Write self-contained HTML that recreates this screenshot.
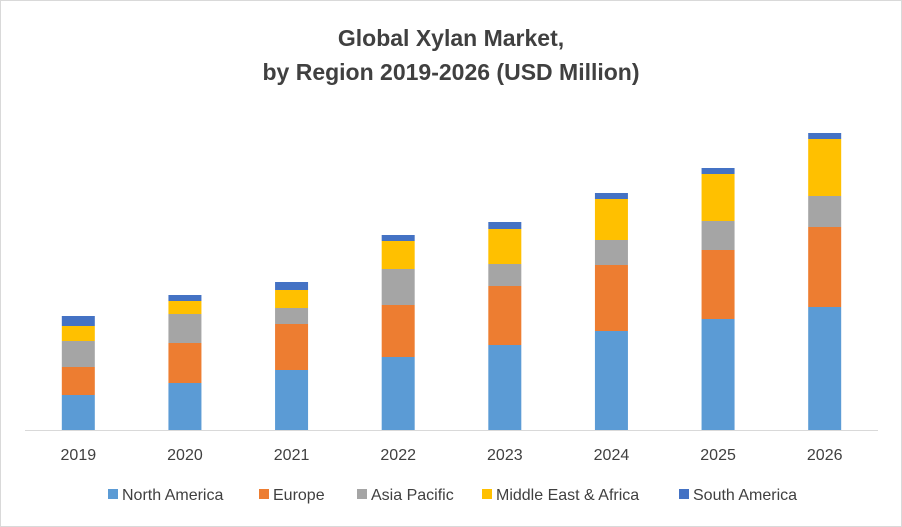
<!DOCTYPE html>
<html><head><meta charset="utf-8"><style>
body{margin:0;background:#fff;}
svg{display:block;font-family:"Liberation Sans",sans-serif;}
</style></head><body>
<svg id="chart" width="902" height="527">
<rect x="0.5" y="0.5" width="901" height="526" fill="#fff" stroke="#d9d9d9"/>
<text x="451" y="46" text-anchor="middle" font-size="23" font-weight="bold" fill="#404040">Global Xylan Market,</text>
<text x="451" y="80" text-anchor="middle" font-size="23" font-weight="bold" fill="#404040">by Region 2019-2026 (USD Million)</text>
<g id="bars"></g>
<line x1="25" y1="430.5" x2="878" y2="430.5" stroke="#d9d9d9"/>
<g id="xlabels"></g>
<g id="legend"></g>
</svg>
<script>
const categories=["2019","2020","2021","2022","2023","2024","2025","2026"];
const northAmerica=[35,47,60,73,85,99,111,123];
const europe=[28,40,46,52,59,66,69,80];
const asiaPacific=[26,29,16,36,22,25,29,31];
const middleEastAfrica=[15,13,18,28,35,41,47,57];
const southAmerica=[10,6,8,6,7,6,6,6];
const seriesNames=["North America","Europe","Asia Pacific","Middle East & Africa","South America"];
const seriesColors=["#5b9bd5","#ed7d31","#a5a5a5","#ffc000","#4472c4"];
const seriesData=[northAmerica,europe,asiaPacific,middleEastAfrica,southAmerica];
const NS="http://www.w3.org/2000/svg";
const plotL=25,plotR=878,baseY=430,scale=1;
const band=(plotR-plotL)/categories.length;
function xCenter(i){return plotL+band*(i+0.5);}
function yPos(v){return baseY-v*scale;}
const bars=document.getElementById('bars');
const xl=document.getElementById('xlabels');
categories.forEach((c,i)=>{
  let cum=0;
  seriesData.forEach((s,k)=>{
    const r=document.createElementNS(NS,'rect');
    r.setAttribute('x',xCenter(i)-16.5);
    r.setAttribute('y',yPos(cum+s[i]));
    r.setAttribute('width',33);
    r.setAttribute('height',s[i]*scale);
    r.setAttribute('fill',seriesColors[k]);
    
    
    bars.appendChild(r);
    cum+=s[i];
  });
  const t=document.createElementNS(NS,'text');
  t.setAttribute('x',xCenter(i));t.setAttribute('y',460);
  t.setAttribute('text-anchor','middle');t.setAttribute('font-size','16');t.setAttribute('fill','#404040');
  
  
  t.textContent=c;xl.appendChild(t);
});
const lg=document.getElementById('legend');
const lx=[108,259,357,482,679];
seriesNames.forEach((n,k)=>{
  const g=document.createElementNS(NS,'g');
  
  
  const r=document.createElementNS(NS,'rect');
  r.setAttribute('x',lx[k]);r.setAttribute('y',489);r.setAttribute('width',10);r.setAttribute('height',10);
  r.setAttribute('fill',seriesColors[k]);
  const t=document.createElementNS(NS,'text');
  t.setAttribute('x',lx[k]+14);t.setAttribute('y',500);t.setAttribute('font-size','16');t.setAttribute('fill','#404040');
  t.textContent=n;
  g.appendChild(r);g.appendChild(t);lg.appendChild(g);
});
</script>
</body></html>
